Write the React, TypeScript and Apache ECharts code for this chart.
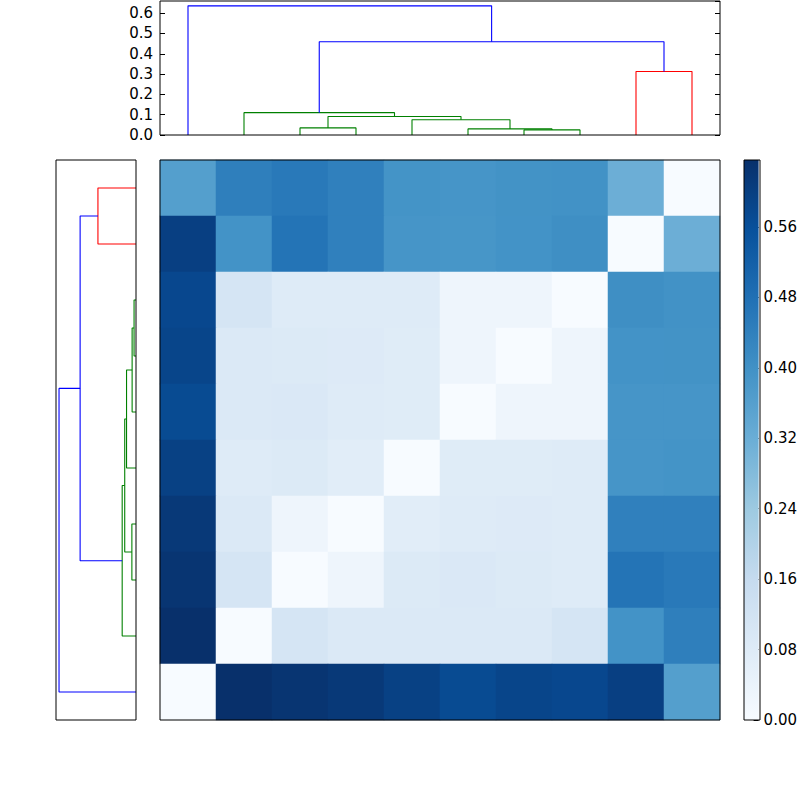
import React, { useEffect, useRef } from "react";
import * as echarts from "echarts";

// Heatmap values: rows top→bottom, columns left→right
const ROW0 = [0.362, 0.443, 0.457, 0.44, 0.393, 0.39, 0.396, 0.397, 0.317, 0];
const ROW1 = [0.599, 0.395, 0.47, 0.44, 0.39, 0.387, 0.395, 0.405, 0, 0.317];
const ROW2 = [0.58, 0.108, 0.08, 0.08, 0.078, 0.029, 0.029, 0, 0.405, 0.397];
const ROW3 = [0.585, 0.09, 0.085, 0.083, 0.075, 0.029, 0, 0.029, 0.395, 0.396];
const ROW4 = [0.572, 0.088, 0.092, 0.08, 0.075, 0, 0.029, 0.029, 0.389, 0.39];
const ROW5 = [0.595, 0.08, 0.085, 0.07, 0, 0.075, 0.075, 0.078, 0.39, 0.393];
const ROW6 = [0.615, 0.088, 0.03, 0, 0.07, 0.08, 0.083, 0.08, 0.44, 0.44];
const ROW7 = [0.625, 0.11, 0, 0.03, 0.085, 0.092, 0.085, 0.08, 0.47, 0.457];
const ROW8 = [0.636, 0, 0.11, 0.088, 0.088, 0.09, 0.09, 0.108, 0.395, 0.443];
const ROW9 = [0, 0.636, 0.625, 0.615, 0.595, 0.572, 0.585, 0.58, 0.599, 0.362];
const MATRIX = [ROW0, ROW1, ROW2, ROW3, ROW4, ROW5, ROW6, ROW7, ROW8, ROW9];

// Dendrogram merges: [childA, childB, height, color]; leaves 0..9, new nodes 10..
const TOP_MERGES: [number, number, number, string][] = [
  [6, 7, 0.025, "g"],
  [5, 10, 0.03, "g"],
  [2, 3, 0.035, "g"],
  [4, 11, 0.075, "g"],
  [12, 13, 0.091, "g"],
  [1, 14, 0.11, "g"],
  [8, 9, 0.313, "r"],
  [15, 16, 0.459, "b"],
  [0, 17, 0.636, "b"],
];
const LEFT_MERGES: [number, number, number, string][] = [
  [0, 1, 0.314, "r"],
  [2, 3, 0.016, "g"],
  [11, 4, 0.032, "g"],
  [12, 5, 0.078, "g"],
  [6, 7, 0.034, "g"],
  [13, 14, 0.093, "g"],
  [15, 8, 0.114, "g"],
  [10, 16, 0.461, "b"],
  [17, 9, 0.635, "b"],
];

const DENDRO_MAX = 0.66;
const COLORBAR_STEP = 0.08;
const DENDRO_STEP = 0.1;

const BLUES = [
  "#f7fbff", "#deebf7", "#c6dbef", "#9ecae1", "#6baed6",
  "#4292c6", "#2171b5", "#08519c", "#08306b",
];
const LINK_COLORS: Record<string, string> = { g: "#008000", r: "#ff0000", b: "#0000ff" };

function links(merges: [number, number, number, string][]) {
  const pos: number[] = [];
  const h: number[] = [];
  for (let i = 0; i < 10; i++) {
    pos.push(5 + 10 * i);
    h.push(0);
  }
  const out: { pts: number[][]; color: string }[] = [];
  merges.forEach(([a, b, height, c]) => {
    out.push({
      pts: [
        [pos[a], h[a]],
        [pos[a], height],
        [pos[b], height],
        [pos[b], h[b]],
      ],
      color: LINK_COLORS[c],
    });
    pos.push((pos[a] + pos[b]) / 2);
    h.push(height);
  });
  return out;
}

const FONT = "DejaVu Sans";
const FS = 15;

export default function App() {
  const ref = useRef<HTMLDivElement>(null);
  useEffect(() => {
    if (!ref.current) return;
    const chart = echarts.init(ref.current, null, { renderer: "svg" });
    const vmax = Math.max(...MATRIX.flat());
    const heatData: number[][] = [];
    MATRIX.forEach((row, r) => row.forEach((v, c) => heatData.push([c, r, v])));
    const cats = Array.from({ length: 10 }, (_, i) => String(i));

    const topLinks = links(TOP_MERGES);
    const leftLinks = links(LEFT_MERGES);

    const G = {
      top: { left: 160, top: 1, width: 560, height: 134 },
      left: { left: 56, top: 160, width: 80, height: 560 },
      heat: { left: 160, top: 160, width: 560, height: 560 },
      cb: { left: 744, top: 160, width: 16, height: 560 },
    };

    const hiddenValue = (gridIndex: number, min: number, max: number, inverse = false) => ({
      type: "value",
      gridIndex,
      min,
      max,
      inverse,
      axisLine: { show: false },
      axisTick: { show: false },
      axisLabel: { show: false },
      splitLine: { show: false },
    });

    const series: any[] = [
      {
        type: "heatmap",
        xAxisIndex: 2,
        yAxisIndex: 3,
        data: heatData,
        itemStyle: { borderWidth: 0 },
        emphasis: { disabled: true },
      },
      {
        type: "bar",
        xAxisIndex: 3,
        yAxisIndex: 4,
        data: [vmax],
        barWidth: "100%",
        itemStyle: {
          color: new echarts.graphic.LinearGradient(
            0, 1, 0, 0,
            BLUES.map((c, i) => ({ offset: i / (BLUES.length - 1), color: c }))
          ),
        },
      },
    ];
    topLinks.forEach((l) =>
      series.push({
        type: "line",
        xAxisIndex: 0,
        yAxisIndex: 0,
        data: l.pts,
        symbol: "none",
        lineStyle: { color: l.color, width: 1.1 },
        silent: true,
      })
    );
    leftLinks.forEach((l) =>
      series.push({
        type: "line",
        xAxisIndex: 1,
        yAxisIndex: 2,
        data: l.pts.map(([p, hh]) => [hh, p]),
        symbol: "none",
        lineStyle: { color: l.color, width: 1.1 },
        silent: true,
      })
    );

    const frame = (g: { left: number; top: number; width: number; height: number }) => ({
      type: "rect",
      shape: { x: g.left, y: g.top, width: g.width, height: g.height },
      style: { fill: "none", stroke: "#000", lineWidth: 1 },
      z: 100,
      silent: true,
    });

    chart.setOption({
      animation: false,
      textStyle: { fontFamily: FONT, fontSize: FS, color: "#000" },
      grid: [G.top, G.left, G.heat, G.cb].map((g) => ({ ...g, show: false })),
      xAxis: [
        hiddenValue(0, 0, 100),
        hiddenValue(1, 0, DENDRO_MAX, true),
        {
          type: "category",
          gridIndex: 2,
          data: cats,
          axisLine: { show: false },
          axisTick: { show: false },
          axisLabel: { show: false },
          splitLine: { show: false },
        },
        {
          type: "category",
          gridIndex: 3,
          data: [""],
          axisLine: { show: false },
          axisTick: { show: false },
          axisLabel: { show: false },
        },
      ],
      yAxis: [
        {
          type: "value",
          gridIndex: 0,
          min: 0,
          max: DENDRO_MAX,
          interval: DENDRO_STEP,
          position: "left",
          axisLine: { show: false },
          axisTick: { show: true, inside: true, length: 5, lineStyle: { color: "#000" } },
          axisLabel: {
            margin: 7,
            color: "#000",
            fontFamily: FONT,
            fontSize: FS,
            showMaxLabel: false,
            formatter: (v: number) => v.toFixed(1),
          },
          splitLine: { show: false },
        },
        {
          type: "value",
          gridIndex: 0,
          min: 0,
          max: DENDRO_MAX,
          interval: DENDRO_STEP,
          position: "right",
          axisLine: { show: false },
          axisTick: { show: true, inside: true, length: 5, lineStyle: { color: "#000" } },
          axisLabel: { show: false },
          splitLine: { show: false },
        },
        hiddenValue(1, 0, 100, true),
        {
          type: "category",
          gridIndex: 2,
          data: cats,
          inverse: true,
          axisLine: { show: false },
          axisTick: { show: false },
          axisLabel: { show: false },
          splitLine: { show: false },
        },
        {
          type: "value",
          gridIndex: 3,
          min: 0,
          max: vmax,
          interval: COLORBAR_STEP,
          position: "right",
          axisLine: { show: false },
          axisTick: { show: true, inside: true, length: 5, lineStyle: { color: "#000" } },
          axisLabel: {
            margin: 5,
            color: "#000",
            fontFamily: FONT,
            fontSize: FS,
            showMaxLabel: false,
            formatter: (v: number) => v.toFixed(2),
          },
          splitLine: { show: false },
        },
      ],
      visualMap: {
        show: false,
        type: "continuous",
        seriesIndex: 0,
        min: 0,
        max: vmax,
        inRange: { color: BLUES },
      },
      graphic: [frame(G.top), frame(G.left), frame(G.heat), frame(G.cb)],
      series,
    });
    return () => chart.dispose();
  }, []);
  return (
    <div
      ref={ref}
      style={{ position: "fixed", left: 0, top: 0, width: 800, height: 800, background: "#fff" }}
    />
  );
}
